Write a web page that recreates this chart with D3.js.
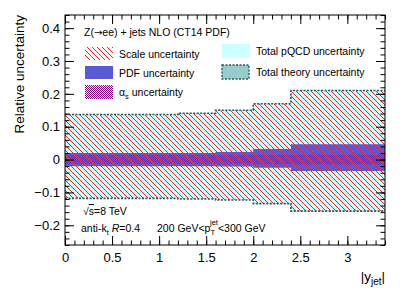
<!DOCTYPE html>
<html>
<head>
<meta charset="utf-8">
<script src="https://cdn.jsdelivr.net/npm/d3@7"></script>
<style>
  body { margin: 0; background: #fff; }
  svg { display: block; font-family: "Liberation Sans", Arial, sans-serif; }
</style>
</head>
<body>
<div id="chart"></div>
<script>
// Bin edges in |y_jet| and relative uncertainties per bin
const binEdges = [0, 0.4, 0.8, 1.2, 1.6, 2.0, 2.4, 3.4];
const totalUp   = [0.137, 0.137, 0.137, 0.141, 0.150, 0.170, 0.210];
const totalDown = [-0.118, -0.118, -0.118, -0.120, -0.123, -0.134, -0.157];
const pqcdUp    = [0.136, 0.136, 0.136, 0.140, 0.149, 0.169, 0.209];
const pqcdDown  = [-0.117, -0.117, -0.117, -0.119, -0.122, -0.133, -0.156];
const scaleUp   = [0.136, 0.136, 0.136, 0.140, 0.149, 0.169, 0.209];
const scaleDown = [-0.117, -0.117, -0.117, -0.119, -0.122, -0.133, -0.156];
const pdfUp     = [0.020, 0.020, 0.020, 0.020, 0.023, 0.032, 0.047];
const pdfDown   = [-0.020, -0.020, -0.020, -0.020, -0.021, -0.025, -0.035];
const alphasUp  = [0.013, 0.013, 0.013, 0.013, 0.013, 0.014, 0.015];
const alphasDown = [-0.013, -0.013, -0.013, -0.013, -0.013, -0.014, -0.015];

const xTicks = [0, 0.5, 1, 1.5, 2, 2.5, 3];
const yTicks = [-0.2, -0.1, 0, 0.1, 0.2, 0.3, 0.4];

const W = 407, H = 293;
const margin = {top: 15, right: 22, bottom: 48, left: 65};
const width = W - margin.left - margin.right;
const height = H - margin.top - margin.bottom;

const svg = d3.select('#chart').append('svg')
  .attr('width', W).attr('height', H);

const defs = svg.append('defs');

// red "\\\\" hatch for scale uncertainty: one pixel per row
const hatchStep = 5;
const hatch = defs.append('pattern')
  .attr('id', 'hatch').attr('patternUnits', 'userSpaceOnUse')
  .attr('width', hatchStep).attr('height', hatchStep);
d3.range(hatchStep).forEach(i => {
  hatch.append('rect').attr('x', i).attr('y', i).attr('width', 1).attr('height', 1)
    .attr('fill', '#ff2020').attr('shape-rendering', 'crispEdges');
});

// purple cross-hatch for alpha_s
const cross = defs.append('pattern')
  .attr('id', 'cross').attr('patternUnits', 'userSpaceOnUse')
  .attr('width', 2).attr('height', 2);
cross.append('rect').attr('x', 0).attr('y', 0).attr('width', 1).attr('height', 1).attr('fill', '#800080');
cross.append('rect').attr('x', 1).attr('y', 1).attr('width', 1).attr('height', 1).attr('fill', '#800080');

const x = d3.scaleLinear().domain([0, 3.4]).range([margin.left, margin.left + width]);
const y = d3.scaleLinear().domain([-0.26, 0.44]).range([margin.top + height, margin.top]);

function steps(up, down) {
  const pts = up.map((u, i) => ({x: binEdges[i], up: u, down: down[i]}));
  const last = up.length - 1;
  pts.push({x: binEdges[last + 1], up: up[last], down: down[last]});
  return pts;
}

const area = d3.area()
  .x(d => x(d.x)).y0(d => y(d.down)).y1(d => y(d.up))
  .curve(d3.curveStepAfter);

const plot = svg.append('g');

plot.append('path').datum(steps(totalUp, totalDown))
  .attr('fill', '#99cccc').attr('d', area);
plot.append('path').datum(steps(pqcdUp, pqcdDown))
  .attr('fill', '#ccffff').attr('d', area);
plot.append('path').datum(steps(pdfUp, pdfDown))
  .attr('fill', '#5a5ad8').attr('d', area);
plot.append('path').datum(steps(alphasUp, alphasDown))
  .attr('fill', 'url(#cross)').attr('opacity', 0.45).attr('d', area);
plot.append('path').datum(steps(scaleUp, scaleDown))
  .attr('fill', 'url(#hatch)').attr('d', area);

// dashed outline of total theory uncertainty
const lineUp = d3.line().x(d => x(d.x)).y(d => y(d.up)).curve(d3.curveStepAfter);
const lineDown = d3.line().x(d => x(d.x)).y(d => y(d.down)).curve(d3.curveStepAfter);
const tot = steps(totalUp, totalDown);
[lineUp, lineDown].forEach(l => {
  plot.append('path').datum(tot)
    .attr('fill', 'none').attr('stroke', '#2f5555')
    .attr('stroke-width', 1.6).attr('stroke-dasharray', '2,1.5')
    .attr('d', l);
});

// Axes (ROOT style: ticks inside, mirrored)
const xMinor = d3.range(0, 3.41, 0.1).map(v => +v.toFixed(2));
const yMinor = d3.range(-0.26, 0.441, 0.02).map(v => +v.toFixed(2));

function styleAxis(g) {
  g.select('.domain').remove();
  g.selectAll('.tick line').attr('stroke', '#000').attr('stroke-width', 1);
  g.selectAll('text').attr('fill', '#000').style('font-size', '13px').style('font-family', '"Liberation Sans", Arial, sans-serif');
}

const fmt = d => d === 0 ? '0' : (d < 0 ? '\u2212' + Math.abs(d) : String(d));

svg.append('g').attr('transform', `translate(0,${margin.top + height})`)
  .call(d3.axisBottom(x).tickValues(xTicks).tickSize(-9).tickPadding(8).tickFormat(fmt))
  .call(styleAxis);
svg.append('g').attr('transform', `translate(0,${margin.top + height})`)
  .call(d3.axisBottom(x).tickValues(xMinor).tickSize(-4.5).tickFormat(''))
  .call(styleAxis);
svg.append('g').attr('transform', `translate(0,${margin.top})`)
  .call(d3.axisTop(x).tickValues(xTicks).tickSize(-9).tickFormat(''))
  .call(styleAxis);
svg.append('g').attr('transform', `translate(0,${margin.top})`)
  .call(d3.axisTop(x).tickValues(xMinor).tickSize(-4.5).tickFormat(''))
  .call(styleAxis);

svg.append('g').attr('transform', `translate(${margin.left},0)`)
  .call(d3.axisLeft(y).tickValues(yTicks).tickSize(-9).tickPadding(5).tickFormat(fmt))
  .call(styleAxis);
svg.append('g').attr('transform', `translate(${margin.left},0)`)
  .call(d3.axisLeft(y).tickValues(yMinor).tickSize(-4.5).tickFormat(''))
  .call(styleAxis);
svg.append('g').attr('transform', `translate(${margin.left + width},0)`)
  .call(d3.axisRight(y).tickValues(yTicks).tickSize(-9).tickFormat(''))
  .call(styleAxis);
svg.append('g').attr('transform', `translate(${margin.left + width},0)`)
  .call(d3.axisRight(y).tickValues(yMinor).tickSize(-4.5).tickFormat(''))
  .call(styleAxis);

// frame
svg.append('rect')
  .attr('x', margin.left).attr('y', margin.top)
  .attr('width', width).attr('height', height)
  .attr('fill', 'none').attr('stroke', '#000').attr('stroke-width', 1);

// axis titles
svg.append('text')
  .attr('transform', `translate(24,${margin.top}) rotate(-90)`)
  .attr('text-anchor', 'end')
  .style('font-size', '13.5px')
  .text('Relative uncertainty');

const xt = svg.append('text')
  .attr('x', margin.left + width).attr('y', 281)
  .attr('text-anchor', 'end')
  .style('font-size', '13.5px');
xt.append('tspan').text('|y');
xt.append('tspan').attr('dy', 4).style('font-size', '10px').text('jet');
xt.append('tspan').attr('dy', -4).text('|');

// legend
const fs = '10.5px';
const title = svg.append('text').attr('x', 84).attr('y', 36).style('font-size', fs);
title.append('tspan').text('Z(');
title.append('tspan').style('font-family', '"DejaVu Sans", sans-serif').style('font-size', '10px').text('\u2192');
title.append('tspan').text('ee) + jets NLO (CT14 PDF)');

const legendItems = [
  {x: 85, y: 47, label: 'Scale uncertainty', type: 'scale'},
  {x: 85, y: 66, label: 'PDF uncertainty', type: 'pdf'},
  {x: 85, y: 85, label: 'alphas', type: 'alphas'},
  {x: 222, y: 44, label: 'Total pQCD uncertainty', type: 'pqcd'},
  {x: 222, y: 65, label: 'Total theory uncertainty', type: 'total'}
];

legendItems.forEach(item => {
  const g = svg.append('g');
  if (item.type === 'scale') {
    g.append('rect').attr('x', item.x).attr('y', item.y).attr('width', 28).attr('height', 13)
      .attr('fill', 'url(#hatch)');
  } else if (item.type === 'pdf') {
    g.append('rect').attr('x', item.x).attr('y', item.y).attr('width', 28).attr('height', 13)
      .attr('fill', '#5a5ad8');
  } else if (item.type === 'alphas') {
    g.append('rect').attr('x', item.x).attr('y', item.y).attr('width', 28).attr('height', 14)
      .attr('fill', 'url(#cross)');
  } else if (item.type === 'pqcd') {
    g.append('rect').attr('x', item.x).attr('y', item.y).attr('width', 28).attr('height', 14)
      .attr('fill', '#ccffff');
  } else {
    g.append('rect').attr('x', item.x).attr('y', item.y).attr('width', 27).attr('height', 14)
      .attr('fill', '#99cccc').attr('stroke', '#2f5555')
      .attr('stroke-width', 1.4).attr('stroke-dasharray', '2,1.5');
  }
  const t = g.append('text').attr('x', item.x + 34).attr('y', item.y + 10.5).style('font-size', fs);
  if (item.type === 'alphas') {
    t.append('tspan').text('\u03b1');
    t.append('tspan').attr('dy', 3).style('font-size', '7.5px').text('s');
    t.append('tspan').attr('dy', -3).text(' uncertainty');
  } else {
    t.text(item.label);
  }
});

// annotation
const a1 = svg.append('text').attr('x', 83).attr('y', 215).style('font-size', fs);
a1.append('tspan').text('\u221A');
a1.append('tspan').style('text-decoration', 'overline').text('s');
a1.append('tspan').text('=8 TeV');
const a2 = svg.append('text').attr('x', 81).attr('y', 232).style('font-size', fs);
a2.append('tspan').text('anti-k');
a2.append('tspan').attr('dy', 3).style('font-size', '7.5px').text('t');
a2.append('tspan').attr('dy', -3).text(' ');
a2.append('tspan').style('font-style', 'italic').text('R');
a2.append('tspan').text('=0.4');

const a3 = svg.append('text').attr('x', 157).attr('y', 232).style('font-size', fs);
a3.append('tspan').text('200 GeV<p');
a3.append('tspan').attr('dy', 3).style('font-size', '7.5px').text('T');
a3.append('tspan').attr('dx', -5).attr('dy', -10).style('font-size', '7.5px').text('jet');
a3.append('tspan').attr('dy', 7).text('<300 GeV');
</script>
</body>
</html>
